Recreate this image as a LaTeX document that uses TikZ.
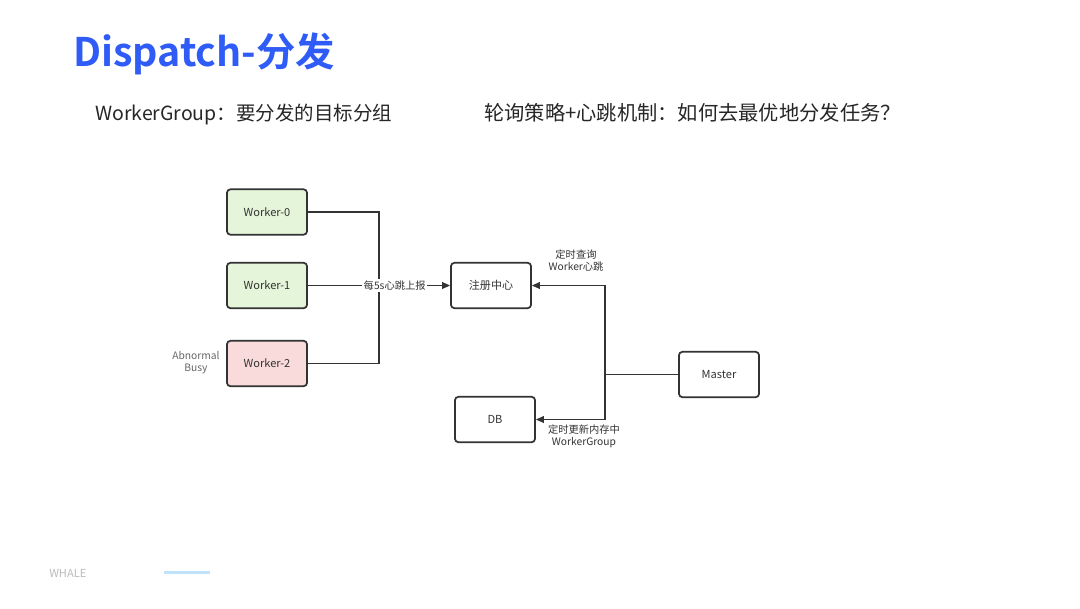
\documentclass[tikz,border=0pt]{standalone}
\usepackage{fontspec}
\setmainfont{Noto Sans CJK SC}
\newfontfamily\cjkbold{Noto Sans CJK SC Bold}
\usetikzlibrary{arrows.meta}
\definecolor{titleblue}{HTML}{2F5CF6}
\definecolor{boxline}{HTML}{333333}
\definecolor{okfill}{HTML}{E5F5DA}
\definecolor{badfill}{HTML}{FADBDB}
\definecolor{txt}{HTML}{333333}
\definecolor{footgray}{HTML}{BBBBBB}
\definecolor{footblue}{HTML}{BFE3FA}
\begin{document}
\begin{tikzpicture}[x=0.75pt,y=-0.75pt,
  box/.style={draw=boxline,line width=1.3pt,rounded corners=2.5pt,minimum width=60pt,minimum height=34pt,inner sep=0pt,font=\fontsize{8.3pt}{9.6pt}\selectfont,text=txt},
  link/.style={draw=boxline,line width=1.1pt},
  arr/.style={link,-{Triangle[length=6pt,width=5pt]}},
  lbl/.style={font=\fontsize{7.7pt}{9pt}\selectfont,text=txt,align=center,inner sep=1pt}]
\useasboundingbox (0,0) rectangle (1080,608);
\fill[white] (0,0) rectangle (1080,608);
% title
\node[anchor=base west,inner sep=0pt,text=titleblue,font=\cjkbold\fontsize{29.5pt}{34pt}\selectfont] (title) at (73,66) {Dispatch-分发};
\node[anchor=base west,inner sep=0pt,text=black!85,font=\fontsize{14.6pt}{17pt}\selectfont] (sub1) at (95,120) {WorkerGroup：要分发的目标分组};
\node[anchor=base west,inner sep=0pt,text=black!85,font=\fontsize{15.2pt}{17pt}\selectfont] (sub2) at (484,120) {轮询策略+心跳机制：如何去最优地分发任务？};
% boxes
\node[box,fill=okfill] (w0) at (267,212) {Worker-0};
\node[box,fill=okfill] (w1) at (267,285.5) {Worker-1};
\node[box,fill=badfill] (w2) at (267,363.5) {Worker-2};
\node[box] (reg) at (491,285.5) {注册中心};
\node[box] (master) at (719,374.5) {Master};
\node[box] (db) at (495,419.5) {DB};
\node[lbl,text=black!60] (ab) at (196,363) {Abnormal\\Busy};
% connectors
\coordinate (bt) at (379,212);
\coordinate (bb) at (379,363.5);
\draw[link] (w0.east) -- (bt) -- (bb) -- (w2.east);
\draw[arr] (w1.east) -- node[lbl,fill=white,pos=0.61] (hb) {每5s心跳上报} (reg.west);
\coordinate (mj) at (605,374.5);
\coordinate (mt) at (605,285.5);
\coordinate (mb) at (605,419.5);
\draw[link] (master.west) -- (mj);
\draw[arr] (mj) -- (mt) -- (reg.east);
\draw[arr] (mj) -- (mb) -- (db.east);
\node[lbl] (q) at (576,261) {定时查询\\Worker心跳};
\node[lbl] (u) at (584,436) {定时更新内存中\\WorkerGroup};
% footer
\node[anchor=west,inner sep=0pt,text=footgray,font=\fontsize{8.3pt}{9pt}\selectfont] (whale) at (49,573.5) {WHALE};
\draw[footblue,line width=2.2pt] (164,572.5) -- (210,572.5);
\end{tikzpicture}
\end{document}
